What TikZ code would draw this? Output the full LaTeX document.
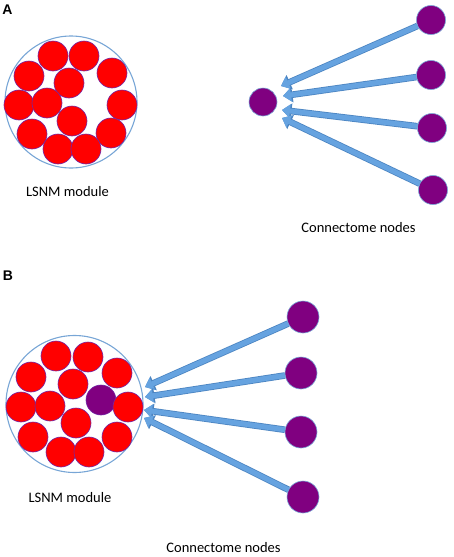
\documentclass[tikz,border=0pt]{standalone}
\usepackage{fontspec}
\setmainfont{Carlito}
\newfontfamily\panelfont{Liberation Sans}
\usetikzlibrary{arrows.meta}
\newlength{\du}
\setlength{\du}{1\unitlength}
\definecolor{cellred}{rgb}{1.000000, 0.000000, 0.000000}
\definecolor{celledge}{rgb}{0.450000, 0.150000, 0.650000}
\definecolor{nodepurple}{rgb}{0.500000, 0.000000, 0.500000}
\definecolor{rimblue}{rgb}{0.470000, 0.650000, 0.840000}
\definecolor{feedblue}{rgb}{0.400000, 0.640000, 0.880000}
\definecolor{feededge}{rgb}{0.300000, 0.520000, 0.760000}
\tikzset{
  module/.style={circle, draw=rimblue, line width=1.1\du, inner sep=0pt},
  cell/.style={circle, draw=celledge, fill=cellred, line width=0.6\du, minimum size=30\du, inner sep=0pt},
  hub/.style={circle, draw=rimblue, fill=nodepurple, line width=0.6\du, inner sep=0pt},
  feed/.style={preaction={draw=feededge, line width=6.6\du, -{Triangle[length=9.5pt,width=15pt]}},
    draw=feedblue, line width=5\du, -{Triangle[length=8pt,width=13pt]}},
  caption/.style={font=\fontsize{14.5}{16}\selectfont},
  panel/.style={font=\panelfont\bfseries\fontsize{14}{16}\selectfont}
}

\begin{document}
\begin{tikzpicture}
\pgftransformxscale{1.000000}
\pgftransformyscale{-1.000000}
\useasboundingbox (0\du,0\du) rectangle (454\du,557\du);
% panel A
\node[panel] (labelA) at (7.5\du,10\du){A};
\node[module, minimum size=132\du] (moduleA) at (71\du,102\du){};
\node[cell] (a1) at (53\du,56\du){};
\node[cell] (a2) at (84\du,56\du){};
\node[cell] (a3) at (29\du,76\du){};
\node[cell] (a4) at (69\du,83\du){};
\node[cell] (a5) at (112\du,73\du){};
\node[cell] (a6) at (19\du,105\du){};
\node[cell] (a7) at (47\du,103\du){};
\node[cell] (a8) at (122\du,105\du){};
\node[cell] (a9) at (72\du,121\du){};
\node[cell] (a10) at (32\du,134\du){};
\node[cell] (a11) at (111\du,133\du){};
\node[cell] (a12) at (58\du,149\du){};
\node[cell] (a13) at (86\du,149\du){};
\node[caption] (moduleAtext) at (67.5\du,192\du){LSNM module};
\node[hub, minimum size=28\du] (hubA) at (263\du,102\du){};
\node[hub, minimum size=29\du] (srcA1) at (431\du,20\du){};
\node[hub, minimum size=29\du] (srcA2) at (431\du,75\du){};
\node[hub, minimum size=29\du] (srcA3) at (432\du,128\du){};
\node[hub, minimum size=29\du] (srcA4) at (433\du,190\du){};
\node[caption] (nodesAtext) at (358.5\du,228\du){Connectome nodes};
\coordinate (tipA1) at (281\du,86\du);
\coordinate (tipA2) at (283\du,96\du);
\coordinate (tipA3) at (282\du,110\du);
\coordinate (tipA4) at (282\du,118\du);
\draw[feed] (srcA1) -- (tipA1);
\draw[feed] (srcA2) -- (tipA2);
\draw[feed] (srcA3) -- (tipA3);
\draw[feed] (srcA4) -- (tipA4);
% panel B
\node[panel] (labelB) at (8\du,275.5\du){B};
\node[module, minimum size=137\du] (moduleB) at (74.5\du,404\du){};
\node[cell] (b1) at (56\du,356\du){};
\node[cell] (b2) at (88\du,357\du){};
\node[cell] (b3) at (31\du,377\du){};
\node[cell] (b4) at (73\du,384\du){};
\node[cell] (b5) at (117\du,373\du){};
\node[cell] (b6) at (21\du,407\du){};
\node[cell] (b7) at (50\du,406\du){};
\node[hub, draw=celledge, minimum size=30\du] (hubB) at (101\du,400\du){};
\node[cell] (b9) at (128\du,407\du){};
\node[cell] (b10) at (76\du,423\du){};
\node[cell] (b11) at (33\du,437\du){};
\node[cell] (b12) at (117\du,437\du){};
\node[cell] (b13) at (61\du,452\du){};
\node[cell] (b14) at (89\du,452\du){};
\node[caption] (moduleBtext) at (70\du,498\du){LSNM module};
\node[hub, minimum size=32\du] (srcB1) at (303\du,317\du){};
\node[hub, minimum size=32\du] (srcB2) at (301\du,373\du){};
\node[hub, minimum size=32\du] (srcB3) at (301\du,432\du){};
\node[hub, minimum size=32\du] (srcB4) at (303\du,497\du){};
\node[caption] (nodesBtext) at (223.5\du,547.5\du){Connectome nodes};
\coordinate (tipB1) at (145\du,387\du);
\coordinate (tipB2) at (145\du,397\du);
\coordinate (tipB3) at (144\du,410\du);
\coordinate (tipB4) at (144\du,418\du);
\draw[feed] (srcB1) -- (tipB1);
\draw[feed] (srcB2) -- (tipB2);
\draw[feed] (srcB3) -- (tipB3);
\draw[feed] (srcB4) -- (tipB4);
\end{tikzpicture}
\end{document}
